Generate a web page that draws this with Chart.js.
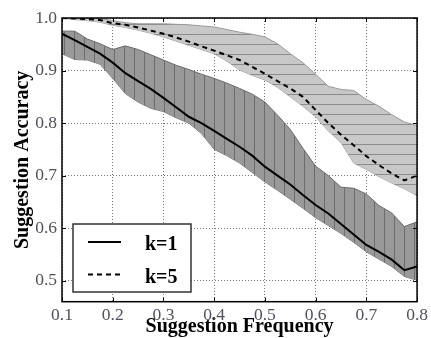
<!DOCTYPE html>
<html>
<head>
<meta charset="utf-8">
<script src="https://cdn.jsdelivr.net/npm/chart.js@4/dist/chart.umd.min.js"></script>
<style>
body { margin: 0; background: #fff; }
#wrap { width: 431px; height: 338px; position: relative; }
</style>
</head>
<body>
<div id="wrap"><canvas id="grafico"></canvas></div>
<script>
// valores
const freq = [0.1, 0.125, 0.15, 0.175, 0.2, 0.225, 0.25, 0.275, 0.3, 0.325, 0.35, 0.375, 0.4, 0.425, 0.45,
  0.475, 0.5, 0.525, 0.55, 0.575, 0.6, 0.625, 0.65, 0.675, 0.7, 0.725, 0.75, 0.775, 0.8];

const k1Mean = [0.970, 0.958, 0.945, 0.932, 0.915, 0.895, 0.880, 0.865, 0.848, 0.830, 0.812, 0.800, 0.785, 0.770, 0.755,
  0.738, 0.717, 0.700, 0.683, 0.663, 0.644, 0.628, 0.608, 0.588, 0.568, 0.555, 0.540, 0.520, 0.527];
const k1Upper = [0.975, 0.975, 0.960, 0.951, 0.940, 0.947, 0.940, 0.930, 0.920, 0.910, 0.902, 0.893, 0.885, 0.876, 0.866,
  0.855, 0.840, 0.815, 0.788, 0.752, 0.718, 0.700, 0.678, 0.676, 0.665, 0.643, 0.629, 0.603, 0.612];
const k1Lower = [0.932, 0.921, 0.920, 0.912, 0.885, 0.856, 0.840, 0.828, 0.822, 0.810, 0.800, 0.780, 0.750, 0.738, 0.724,
  0.706, 0.688, 0.672, 0.655, 0.638, 0.620, 0.605, 0.590, 0.573, 0.555, 0.541, 0.527, 0.508, 0.501];

const k5Mean = [1.000, 0.999, 0.998, 0.996, 0.990, 0.987, 0.982, 0.976, 0.970, 0.963, 0.955, 0.946, 0.938, 0.929, 0.920,
  0.907, 0.894, 0.880, 0.866, 0.850, 0.825, 0.800, 0.778, 0.758, 0.737, 0.720, 0.704, 0.691, 0.700];
const k5Upper = [1.000, 1.000, 1.000, 0.999, 0.995, 0.991, 0.989, 0.989, 0.989, 0.988, 0.987, 0.985, 0.983, 0.978, 0.973,
  0.969, 0.964, 0.951, 0.932, 0.915, 0.893, 0.870, 0.864, 0.862, 0.845, 0.832, 0.816, 0.802, 0.795];
const k5Lower = [1.000, 0.997, 0.995, 0.992, 0.986, 0.982, 0.977, 0.971, 0.964, 0.956, 0.948, 0.940, 0.932, 0.918, 0.901,
  0.891, 0.882, 0.868, 0.850, 0.832, 0.812, 0.785, 0.763, 0.724, 0.712, 0.698, 0.686, 0.675, 0.662];

const xTicks = [0.1, 0.2, 0.3, 0.4, 0.5, 0.6, 0.7, 0.8];
const yTicks = [0.5, 0.6, 0.7, 0.8, 0.9, 1.0];
const leyenda = ['k=1', 'k=5'];

const serif = "'Liberation Serif', 'DejaVu Serif', serif";

const puntos = (arr) => arr.map((v, i) => ({ x: freq[i], y: v }));

// patron de rayas (vertical u horizontal)
function crearPatron(fondo, raya, vertical) {
    const c = document.createElement('canvas');
    c.width = 10; c.height = 10;
    const g = c.getContext('2d');
    g.fillStyle = fondo;
    g.fillRect(0, 0, 10, 10);
    g.fillStyle = raya;
    if (vertical) g.fillRect(4, 0, 1, 10);
    else g.fillRect(0, 4, 10, 1);
    return g.createPattern(c, 'repeat');
}

const patronK1 = crearPatron('#999999', '#6c6c6c', true);
const patronK5 = crearPatron('#c8c8c8', '#8c8c8c', false);

// marco, marcas internas y leyenda
const marcoPlugin = {
    id: 'marco',
    afterDraw(chart) {
        const { ctx, chartArea: a, scales } = chart;
        ctx.save();
        ctx.strokeStyle = '#000';
        ctx.lineWidth = 1;
        xTicks.forEach(t => {
            const px = Math.round(scales.x.getPixelForValue(t)) + 0.5;
            ctx.beginPath();
            ctx.moveTo(px, a.bottom); ctx.lineTo(px, a.bottom - 4);
            ctx.moveTo(px, a.top); ctx.lineTo(px, a.top + 4);
            ctx.stroke();
        });
        yTicks.forEach(t => {
            const py = Math.round(scales.y.getPixelForValue(t)) + 0.5;
            ctx.beginPath();
            ctx.moveTo(a.left, py); ctx.lineTo(a.left + 4, py);
            ctx.moveTo(a.right, py); ctx.lineTo(a.right - 4, py);
            ctx.stroke();
        });
        ctx.lineWidth = 1.5;
        ctx.strokeRect(a.left, a.top, a.right - a.left, a.bottom - a.top);

        // leyenda
        const bx = 73, by = 224, bw = 118, bh = 68;
        ctx.fillStyle = '#fff';
        ctx.fillRect(bx, by, bw, bh);
        ctx.strokeStyle = '#333';
        ctx.lineWidth = 1.5;
        ctx.strokeRect(bx, by, bw, bh);
        ctx.strokeStyle = '#000';
        ctx.lineWidth = 2;
        ctx.beginPath();
        ctx.moveTo(88, 242); ctx.lineTo(121, 242);
        ctx.stroke();
        ctx.setLineDash([5, 4]);
        ctx.beginPath();
        ctx.moveTo(88, 274.5); ctx.lineTo(121, 274.5);
        ctx.stroke();
        ctx.setLineDash([]);
        ctx.fillStyle = '#000';
        ctx.font = 'bold 20px ' + serif;
        ctx.textBaseline = 'alphabetic';
        ctx.fillText(leyenda[0], 145, 250);
        ctx.fillText(leyenda[1], 145, 283);
        ctx.restore();
    }
};

const ctx = document.getElementById('grafico').getContext('2d');
new Chart(ctx, {
    type: 'line',
    data: {
        datasets: [
            {
                label: 'k=1', data: puntos(k1Mean),
                borderColor: '#000', borderWidth: 2, pointRadius: 0, fill: false, tension: 0, order: 0
            },
            {
                label: 'k=5', data: puntos(k5Mean),
                borderColor: '#000', borderWidth: 2, borderDash: [5, 4], pointRadius: 0, fill: false, tension: 0, order: 1
            },
            {
                label: 'k1 sup', data: puntos(k1Upper),
                borderColor: '#6a6a6a', borderWidth: 1, pointRadius: 0, tension: 0,
                backgroundColor: patronK1, fill: '+1', order: 2
            },
            {
                label: 'k1 inf', data: puntos(k1Lower),
                borderColor: '#6a6a6a', borderWidth: 1, pointRadius: 0, tension: 0, fill: false, order: 2
            },
            {
                label: 'k5 sup', data: puntos(k5Upper),
                borderColor: '#999', borderWidth: 1, pointRadius: 0, tension: 0,
                backgroundColor: patronK5, fill: '+1', order: 3
            },
            {
                label: 'k5 inf', data: puntos(k5Lower),
                borderColor: '#999', borderWidth: 1, pointRadius: 0, tension: 0, fill: false, order: 3
            }
        ]
    },
    options: {
        responsive: true,
        maintainAspectRatio: false,
        animation: false,
        layout: { padding: { top: 18, right: 5, left: 0, bottom: 0 } },
        plugins: {
            legend: { display: false },
            tooltip: { enabled: false }
        },
        scales: {
            x: {
                type: 'linear',
                min: 0.1, max: 0.8,
                afterBuildTicks: (s) => { s.ticks = xTicks.map(v => ({ value: v })); },
                afterFit: (s) => { s.height = 36.3; },
                grid: { color: '#555', lineWidth: 0.8, drawTicks: false },
                border: { display: false, dash: [1, 2] },
                ticks: {
                    padding: 3,
                    color: '#50505e',
                    font: { family: serif, size: 17.5 },
                    callback: (v) => v.toFixed(1)
                },
                title: {
                    display: true, text: 'Suggestion Frequency', color: '#000',
                    font: { family: serif, size: 20, weight: 'bold', lineHeight: 1.2 },
                    padding: { top: 0, bottom: -1 }
                }
            },
            y: {
                type: 'linear',
                min: 0.46, max: 1.0,
                afterBuildTicks: (s) => { s.ticks = yTicks.map(v => ({ value: v })); },
                afterFit: (s) => { s.width = 62; },
                grid: { color: '#555', lineWidth: 0.8, drawTicks: false },
                border: { display: false, dash: [1, 2] },
                ticks: {
                    padding: 5,
                    color: '#50505e',
                    font: { family: serif, size: 17.5 },
                    callback: (v) => v.toFixed(1)
                },
                title: {
                    display: true, text: 'Suggestion Accuracy', color: '#000',
                    font: { family: serif, size: 20, weight: 'bold', lineHeight: 1.2 },
                    padding: { top: 11, bottom: 0 }
                }
            }
        }
    },
    plugins: [marcoPlugin]
});
</script>
</body>
</html>
